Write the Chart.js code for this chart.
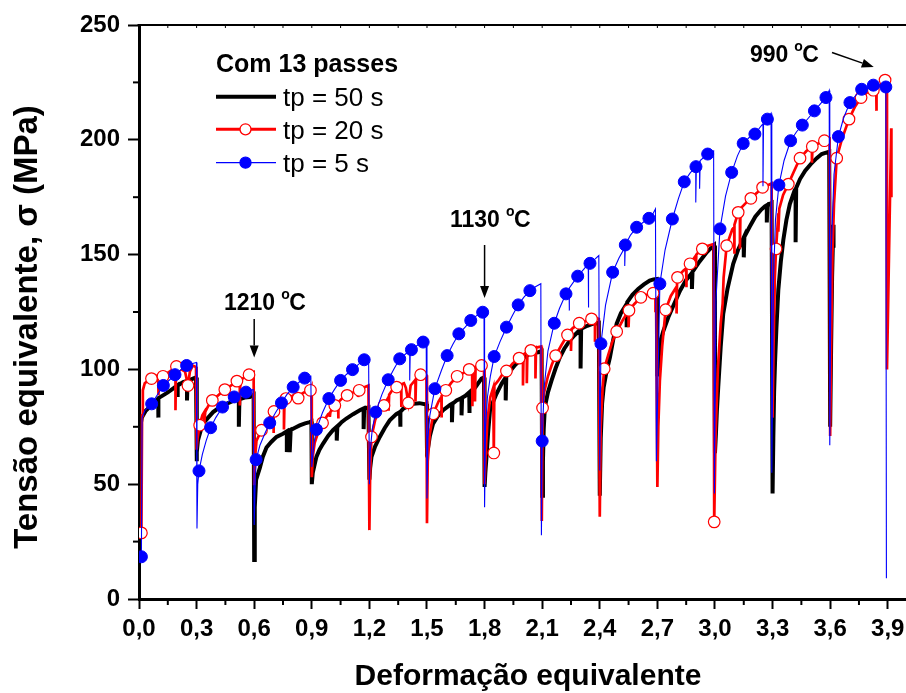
<!DOCTYPE html>
<html>
<head>
<meta charset="utf-8">
<script src="https://cdn.jsdelivr.net/npm/chart.js@4.4.1/dist/chart.umd.min.js"></script>
<style>
  html, body { margin: 0; padding: 0; background: #fff; }
  canvas { display: block; }
</style>
</head>
<body>
<canvas id="c" width="906" height="693"></canvas>
<script>
// ---------------- DATA ----------------
const seriesNames = ['tp = 50 s', 'tp = 20 s', 'tp = 5 s'];
const legendTitle = 'Com 13 passes';
const xTitle = 'Deformação equivalente';
const yTitle = 'Tensão equivalente, σ (MPa)';
const xTickValues = [0, 0.3, 0.6, 0.9, 1.2, 1.5, 1.8, 2.1, 2.4, 2.7, 3.0, 3.3, 3.6, 3.9];
const xMinorValues = [0.15, 0.45, 0.75, 1.05, 1.35, 1.65, 1.95, 2.25, 2.55, 2.85, 3.15, 3.45, 3.75];
const yTickValues = [0, 50, 100, 150, 200, 250];
const yMinorValues = [25, 75, 125, 175, 225];
const annotations = [
  { label: '1210', x: 0.6, y: 100 },
  { label: '1130', x: 1.8, y: 125 },
  { label: '990', x: 3.9, y: 226 }
];

// tp = 50 s  (strain, stress MPa)
const curve50 = [
  [0.003,52],[0.006,75],[0.015,79],[0.035,82],[0.06,84],[0.08,86],[0.1,87],[0.1,79],[0.102,87.5],[0.125,88.7],[0.15,90],[0.177,91.6],[0.2,93],[0.2,88],[0.203,93],[0.23,94.5],[0.25,95],[0.25,86.5],[0.253,95],[0.281,96],[0.297,96.5],
  [0.3,60],[0.302,64],[0.307,69],[0.32,73],[0.334,76.4],[0.36,79],[0.386,81.4],[0.42,83.5],[0.455,85],[0.49,86.3],[0.52,87],[0.52,75],[0.523,87],[0.55,87.7],[0.577,88],[0.597,89],
  [0.6,17],[0.603,40],[0.61,52],[0.629,57],[0.645,62],[0.664,66],[0.69,68.5],[0.716,70.6],[0.75,72],[0.77,73],[0.77,64],[0.775,73],[0.785,73.5],[0.785,64],[0.79,73.6],[0.81,74.5],[0.837,75.6],[0.865,76.5],[0.889,77],[0.898,77.3],
  [0.9,50],[0.905,55],[0.924,61.9],[0.94,65],[0.959,67.7],[0.985,71],[1.01,73.5],[1.03,75],[1.03,69],[1.033,75],[1.055,77],[1.08,78.6],[1.115,80.5],[1.15,82.2],[1.17,83],[1.17,74],[1.173,83],[1.195,83.5],
  [1.2,52],[1.204,57],[1.211,61.9],[1.23,66.5],[1.254,70.6],[1.28,74.5],[1.306,77.8],[1.34,80.5],[1.36,81.5],[1.36,75],[1.363,81.5],[1.376,82.9],[1.4,84],[1.428,85],[1.46,85.3],[1.489,84.8],[1.497,85],
  [1.5,65],[1.506,66],[1.515,71],[1.532,76.4],[1.555,79.5],[1.584,82.2],[1.62,84.5],[1.63,85],[1.63,77],[1.633,85],[1.654,86.5],[1.68,87.5],[1.68,80],[1.683,87.7],[1.7,88.5],[1.72,90],[1.72,81],[1.723,90.1],[1.75,92],[1.784,96],[1.797,96.5],
  [1.8,48.8],[1.804,55],[1.81,62],[1.818,72],[1.828,82],[1.845,86],[1.862,89.4],[1.89,94],[1.91,96.5],[1.91,86.5],[1.913,97],[1.94,100],[1.96,102],[1.984,104],[2.01,105.5],[2.036,106.8],[2.06,107.3],[2.08,107.5],[2.097,108],
  [2.1,45],[2.104,60],[2.108,74],[2.114,83.6],[2.13,90],[2.149,95.2],[2.17,100.5],[2.192,105.3],[2.215,109],[2.244,112.6],[2.27,115],[2.3,117.5],[2.3,100.4],[2.303,117.7],[2.335,119],[2.366,119.9],[2.395,120.3],
  [2.4,45],[2.405,70],[2.412,85],[2.42,92],[2.435,99],[2.453,105.3],[2.47,113],[2.488,119.9],[2.51,124.5],[2.54,128.5],[2.54,118.4],[2.543,129.3],[2.57,132.5],[2.6,135],[2.63,137],[2.66,138.7],[2.68,139.2],[2.697,139.4],
  [2.7,97],[2.705,103],[2.713,111.2],[2.73,116.5],[2.757,122.7],[2.79,129],[2.818,134.3],[2.85,139],[2.88,142],[2.88,135],[2.883,142.5],[2.92,147],[2.957,151],[2.975,152.5],[2.995,154],
  [3.0,63.5],[3.005,72],[3.01,82],[3.017,92.3],[3.03,110],[3.043,124.2],[3.065,135],[3.095,146],[3.12,152],[3.15,157.5],[3.15,148.8],[3.153,157.7],[3.18,162],[3.21,166.5],[3.24,169.5],[3.26,171],[3.27,171.5],[3.27,164],[3.273,171.6],[3.295,172.5],
  [3.3,46],[3.304,70],[3.308,90],[3.313,103.5],[3.32,118],[3.33,134.7],[3.343,147],[3.356,156.4],[3.372,165],[3.39,172],[3.415,178],[3.42,178.5],[3.42,155.4],[3.423,179],[3.443,182.9],[3.47,186.5],[3.504,189.9],[3.53,192],[3.556,193.8],[3.575,194.3],[3.595,194.8],
  [3.6,75],[3.605,110],[3.61,140],[3.615,158],[3.617,163],[3.618,153]
];

// tp = 20 s
const curve20 = [
  [0.0125,28.8],[0.016,80],[0.02,90.9],[0.03,94],[0.045,95],[0.065,96],[0.08,97.4],[0.1,97],[0.1,88.7],[0.103,97],[0.125,97],[0.15,98.5],[0.175,100],[0.19,100.5],[0.19,82.2],[0.193,101],[0.195,101.3],[0.22,100],[0.24,99],[0.255,93],[0.265,99],[0.28,101.7],[0.297,101],
  [0.3,65],[0.305,70],[0.316,75.7],[0.33,80],[0.34,81.4],[0.34,76.4],[0.345,81.5],[0.36,84],[0.382,86.5],[0.41,88.5],[0.447,91.2],[0.48,93],[0.51,94.9],[0.525,95.5],[0.525,84.3],[0.528,95.5],[0.55,96.5],[0.573,97.7],[0.597,98.8],
  [0.6,49.6],[0.605,62],[0.612,69],[0.638,73.5],[0.67,78],[0.7,81.5],[0.7,72.3],[0.703,81.7],[0.73,84],[0.755,86.5],[0.755,73.8],[0.758,86.8],[0.765,87.3],[0.79,88],[0.81,89],[0.829,87.5],[0.85,89.5],[0.87,90.5],[0.893,90.9],[0.898,92],
  [0.9,53],[0.905,62],[0.915,68],[0.935,73],[0.956,76.7],[0.985,80.5],[0.994,81],[0.994,79.3],[0.997,81.5],[1.02,84.3],[1.037,85.5],[1.037,78.6],[1.04,85.8],[1.06,87.5],[1.084,88.7],[1.115,90],[1.141,90.9],[1.141,88],[1.147,90.9],[1.168,92],[1.195,93],
  [1.2,30],[1.204,55],[1.211,70.6],[1.23,78],[1.25,82],[1.276,84.3],[1.3,88],[1.3,82],[1.303,89],[1.32,91],[1.342,92.3],[1.365,93],[1.365,83.6],[1.368,93.5],[1.38,94],[1.39,92],[1.403,85.4],[1.415,93],[1.44,95.5],[1.44,86],[1.443,96],[1.467,97.7],[1.485,98],[1.497,97.4],
  [1.5,33],[1.504,60],[1.515,72],[1.533,80.7],[1.56,86],[1.575,88],[1.575,79],[1.578,88.5],[1.598,90.9],[1.625,94],[1.657,97],[1.69,98.5],[1.72,100],[1.735,100.5],[1.735,84],[1.738,100.5],[1.75,101],[1.75,86],[1.753,101],[1.784,101.7],[1.797,102],
  [1.8,50],[1.805,62],[1.815,78],[1.83,88],[1.845,92],[1.848,63.6],[1.851,93],[1.87,95],[1.89,97.5],[1.914,99.3],[1.945,102.5],[1.98,104.9],[2.0,106],[2.0,93],[2.003,106.5],[2.02,107.5],[2.02,94],[2.023,107.5],[2.041,108.3],[2.065,109.5],[2.065,96],[2.068,109.5],[2.095,110],
  [2.098,34],[2.102,83.2],[2.11,90],[2.13,97],[2.15,102],[2.17,106],[2.2,110.5],[2.232,115],[2.25,117],[2.25,108],[2.253,117.5],[2.293,120.1],[2.325,121],[2.357,122],[2.375,122.5],[2.375,112],[2.378,122.5],[2.395,122],
  [2.4,35.8],[2.405,75],[2.415,92],[2.423,100.3],[2.445,106.5],[2.465,112],[2.488,116.5],[2.52,121.5],[2.55,125.5],[2.55,118.4],[2.553,125.7],[2.58,128.5],[2.614,131.4],[2.645,132.5],[2.678,133.2],[2.69,134],[2.69,124.9],[2.693,134],[2.697,134],
  [2.7,48.8],[2.705,75],[2.713,95],[2.725,110],[2.743,126],[2.77,132],[2.8,136],[2.8,124.3],[2.803,140],[2.805,140.1],[2.835,143],[2.85,144],[2.85,135.8],[2.853,144],[2.87,146],[2.9,149.5],[2.9,144.5],[2.903,150],[2.934,152.5],[2.96,153.8],[2.993,154.6],
  [2.996,33.6],[3.003,70],[3.015,100],[3.03,120],[3.04,128.6],[3.045,140],[3.061,153.9],[3.09,161],[3.1,162],[3.1,150.4],[3.103,163],[3.121,168.4],[3.13,169.5],[3.13,152.6],[3.133,170],[3.155,172],[3.187,174.5],[3.22,177],[3.248,179.3],[3.27,180],[3.295,181],
  [3.3,79],[3.305,110],[3.312,140],[3.318,152.5],[3.328,165],[3.33,168],[3.33,160],[3.335,170],[3.355,176],[3.382,180.7],[3.41,186],[3.443,192],[3.475,195],[3.505,197],[3.505,190],[3.508,197.1],[3.54,198.5],[3.57,199.6],[3.585,200.3],[3.597,200.5],
  [3.6,71],[3.605,110],[3.612,150],[3.62,172],[3.634,192],[3.66,200],[3.698,209],[3.73,214.5],[3.761,218.4],[3.79,220.5],[3.825,221.6],[3.84,222],[3.84,212.6],[3.843,222.5],[3.865,224],[3.886,226],[3.893,225],
  [3.896,100],[3.918,205],[3.919,175]
];
const markers20 = [
  [0.0125,28.8],[0.065,96],[0.125,97],[0.195,101.3],[0.255,93],[0.316,75.7],[0.382,86.5],[0.447,91.2],[0.51,94.9],[0.573,97.7],
  [0.638,73.5],[0.703,81.7],[0.765,87.3],[0.829,87.5],[0.893,90.9],[0.956,76.7],[1.02,84.3],[1.084,88.7],[1.147,90.9],[1.211,70.6],
  [1.276,84.3],[1.342,92.3],[1.403,85.4],[1.467,97.7],[1.533,80.7],[1.598,90.9],[1.657,97],[1.72,100],[1.784,101.7],[1.848,63.6],
  [1.914,99.3],[1.98,104.9],[2.041,108.3],[2.102,83.2],[2.17,106],[2.232,115],[2.293,120.1],[2.357,122],[2.423,100.3],[2.488,116.5],
  [2.552,125.7],[2.614,131.4],[2.678,133.2],[2.743,126],[2.805,140.1],[2.87,146],[2.934,152.5],[2.996,33.6],[3.061,153.9],[3.121,168.4],
  [3.187,174.5],[3.248,179.3],[3.318,152.5],[3.382,180.7],[3.443,192],[3.507,197.1],[3.57,199.6],[3.634,192],[3.698,209],[3.761,218.4],
  [3.825,221.6],[3.886,226]
];

// tp = 5 s
const curve5 = [
  [0.0125,18.4],[0.016,79],[0.03,82],[0.066,85],[0.1,89.5],[0.127,93],[0.16,95.5],[0.1875,97.7],[0.22,100],[0.248,101.7],[0.275,102.5],[0.299,103],
  [0.302,30.7],[0.306,50],[0.3125,55.8],[0.33,63],[0.35,69],[0.373,74.6],[0.4,79],[0.435,83.6],[0.465,86],[0.496,88],[0.527,89.3],[0.557,90.1],[0.595,91.2],
  [0.6,32.2],[0.605,50],[0.61,60.7],[0.63,67],[0.655,72],[0.681,76.7],[0.71,81],[0.742,85.4],[0.77,89],[0.803,92.3],[0.835,94.5],[0.863,96.2],[0.895,97],
  [0.9,57.5],[0.905,62],[0.912,68],[0.924,73.8],[0.955,81],[0.989,87.3],[1.02,91.5],[1.05,95.2],[1.08,97.8],[1.112,99.9],[1.14,102],[1.173,104.2],[1.196,105],
  [1.2,50],[1.205,65],[1.215,74],[1.233,81.4],[1.265,89],[1.298,95.5],[1.33,100.5],[1.358,104.6],[1.39,106.8],[1.41,108],[1.41,95.2],[1.413,108.2],[1.419,108.6],[1.45,110.5],[1.48,111.9],[1.496,112],
  [1.5,43.8],[1.505,70],[1.515,80],[1.541,91.6],[1.575,99.5],[1.605,106],[1.635,111],[1.666,115.5],[1.7,118.5],[1.728,121.3],[1.76,123.5],[1.79,124.9],[1.797,125],
  [1.8,40],[1.805,75],[1.815,88],[1.83,97],[1.85,105.6],[1.88,112],[1.914,118.4],[1.945,123.5],[1.975,128.1],[2.005,131.5],[2.036,134.3],[2.065,136],[2.093,137.3],
  [2.096,27.8],[2.1,68.8],[2.11,92],[2.13,108],[2.163,120.1],[2.19,126.5],[2.224,132.9],[2.24,135],[2.24,125.6],[2.243,135.5],[2.285,140.6],[2.315,143.5],[2.34,146],[2.34,127],[2.343,146],[2.349,146.2],[2.375,148],[2.395,149.6],
  [2.4,56],[2.406,111.2],[2.43,128],[2.467,142.3],[2.5,148.5],[2.53,153],[2.53,145],[2.533,154.2],[2.56,158.5],[2.592,161.9],[2.625,164],[2.656,165.8],[2.675,167.5],[2.69,169.9],
  [2.695,60],[2.713,137.3],[2.74,152],[2.778,165.5],[2.81,174.5],[2.84,181.7],[2.87,185.5],[2.9,188.3],[2.9,172.7],[2.903,188.5],[2.92,190.5],[2.92,178.7],[2.923,191],[2.962,193.8],[2.993,195.2],
  [2.997,46],[3.005,130],[3.026,161.2],[3.055,175.5],[3.087,185.8],[3.117,193],[3.147,198.4],[3.178,201],[3.208,202.5],[3.24,206],[3.25,207],[3.25,179.8],[3.253,207.5],[3.273,209],[3.292,211.5],
  [3.296,55],[3.305,140],[3.315,165],[3.333,180.3],[3.36,191],[3.394,199.6],[3.425,203.5],[3.455,206.4],[3.487,209.5],[3.518,212.6],[3.548,215.5],[3.578,218.4],[3.595,221.5],
  [3.598,67],[3.605,150],[3.62,185],[3.643,201.4],[3.67,209.5],[3.703,216.2],[3.735,219.5],[3.764,222],[3.795,223],[3.825,223.8],[3.857,223.5],[3.89,223],
  [3.893,9]
];
const markers5 = [
  [0.0125,18.4],[0.066,85],[0.127,93],[0.1875,97.7],[0.248,101.7],[0.3125,55.8],[0.373,74.6],[0.435,83.6],[0.496,88],[0.557,90.1],
  [0.61,60.7],[0.681,76.7],[0.742,85.4],[0.803,92.3],[0.863,96.2],[0.924,73.8],[0.989,87.3],[1.05,95.2],[1.112,99.9],[1.173,104.2],
  [1.233,81.4],[1.298,95.5],[1.358,104.6],[1.419,108.6],[1.48,111.9],[1.541,91.6],[1.605,106],[1.666,115.5],[1.728,121.3],[1.79,124.9],
  [1.85,105.6],[1.914,118.4],[1.975,128.1],[2.036,134.3],[2.1,68.8],[2.163,120.1],[2.224,132.9],[2.285,140.6],[2.349,146.2],[2.406,111.2],
  [2.467,142.3],[2.533,154.2],[2.592,161.9],[2.656,165.8],[2.713,137.3],[2.778,165.5],[2.84,181.7],[2.901,188.3],[2.962,193.8],[3.026,161.2],
  [3.087,185.8],[3.147,198.4],[3.208,202.5],[3.273,209],[3.333,180.3],[3.394,199.6],[3.455,206.4],[3.518,212.6],[3.578,218.4],[3.643,201.4],
  [3.703,216.2],[3.764,222],[3.825,223.8],[3.89,223]
];

// ---------------- STYLE ----------------
const FONT = '"Liberation Sans", Arial, Helvetica, sans-serif';
const toPts = arr => arr.map(p => ({ x: p[0], y: p[1] }));
const C50 = '#000000', C20 = '#ff0000', C5 = '#0000ff';

function arrow(ctx, x1, y1, x2, y2) {
  const ang = Math.atan2(y2 - y1, x2 - x1);
  const hl = 12, hw = 4.5;
  const bx = x2 - hl * Math.cos(ang), by = y2 - hl * Math.sin(ang);
  ctx.beginPath(); ctx.moveTo(x1, y1); ctx.lineTo(bx, by); ctx.stroke();
  ctx.beginPath();
  ctx.moveTo(x2, y2);
  ctx.lineTo(bx + hw * Math.sin(ang), by - hw * Math.cos(ang));
  ctx.lineTo(bx - hw * Math.sin(ang), by + hw * Math.cos(ang));
  ctx.closePath(); ctx.fill();
}

const deco = {
  id: 'deco',
  afterDraw(chart) {
    const { ctx, chartArea: ca, scales: { x, y } } = chart;
    ctx.save();
    ctx.strokeStyle = '#000'; ctx.fillStyle = '#000';
    // minor ticks
    ctx.lineWidth = 2;
    xMinorValues.forEach(v => { const px = x.getPixelForValue(v); ctx.beginPath(); ctx.moveTo(px, ca.bottom); ctx.lineTo(px, ca.bottom + 6); ctx.stroke(); });
    yMinorValues.forEach(v => { const py = y.getPixelForValue(v); ctx.beginPath(); ctx.moveTo(ca.left, py); ctx.lineTo(ca.left - 6, py); ctx.stroke(); });
    // top frame with small inward ticks
    ctx.lineWidth = 2.2;
    ctx.beginPath(); ctx.moveTo(ca.left - 1.5, ca.top); ctx.lineTo(906, ca.top); ctx.stroke();
    ctx.lineWidth = 1;
    [...xTickValues, ...xMinorValues].forEach(v => { const px = x.getPixelForValue(v); ctx.beginPath(); ctx.moveTo(px, ca.top); ctx.lineTo(px, ca.top + 3); ctx.stroke(); });

    // axis titles
    ctx.font = 'bold 30px ' + FONT;
    ctx.textAlign = 'center'; ctx.textBaseline = 'alphabetic';
    ctx.fillText(xTitle, 528, 685);
    ctx.save();
    ctx.translate(37, 327); ctx.rotate(-Math.PI / 2);
    ctx.font = 'bold 33px ' + FONT;
    ctx.fillText(yTitle, 0, 0);
    ctx.restore();

    // legend
    ctx.textAlign = 'left';
    ctx.font = 'bold 25px ' + FONT;
    ctx.fillText(legendTitle, 216, 71.5);
    const rows = [
      { c: C50, w: 4, m: null, yl: 96.7, yb: 106 },
      { c: C20, w: 3, m: 'open', yl: 129.3, yb: 138.5 },
      { c: C5, w: 1.3, m: 'fill', yl: 162.7, yb: 171.5 }
    ];
    ctx.font = '26px ' + FONT;
    rows.forEach((r, i) => {
      ctx.strokeStyle = r.c; ctx.lineWidth = r.w;
      ctx.beginPath(); ctx.moveTo(216, r.yl); ctx.lineTo(276, r.yl); ctx.stroke();
      if (r.m) {
        ctx.beginPath(); ctx.arc(245.5, r.yl, 5.5, 0, Math.PI * 2);
        ctx.fillStyle = r.m === 'open' ? '#fff' : r.c; ctx.fill();
        ctx.lineWidth = 1.3; ctx.strokeStyle = r.c; ctx.stroke();
      }
      ctx.fillStyle = '#000';
      ctx.fillText(seriesNames[i], 283, r.yb);
    });

    // temperature annotations
    ctx.fillStyle = '#000'; ctx.strokeStyle = '#000'; ctx.lineWidth = 1.5;
    const drawTemp = (txt, x0, base) => {
      ctx.font = 'bold 23px ' + FONT; ctx.textAlign = 'left';
      ctx.fillText(txt, x0, base);
      const w = ctx.measureText(txt).width;
      ctx.font = 'bold 14px ' + FONT;
      ctx.fillText('o', x0 + w + 6, base - 11);
      ctx.font = 'bold 23px ' + FONT;
      ctx.fillText('C', x0 + w + 14, base);
    };
    const a0 = annotations[0], a1 = annotations[1], a2 = annotations[2];
    const p0x = x.getPixelForValue(a0.x);
    drawTemp(a0.label, 224, 310);
    arrow(ctx, p0x, 319, p0x, y.getPixelForValue(a0.y) - 12);
    const p1x = x.getPixelForValue(a1.x);
    drawTemp(a1.label, 450, 227);
    arrow(ctx, p1x, 245, p1x, y.getPixelForValue(a1.y) - 14);
    drawTemp(a2.label, 750, 62);
    arrow(ctx, 832, 52.5, x.getPixelForValue(a2.x) - 14, y.getPixelForValue(a2.y) - 13);
    ctx.restore();
  }
};

new Chart(document.getElementById('c'), {
  type: 'scatter',
  data: {
    datasets: [
      { label: seriesNames[0], data: toPts(curve50), showLine: true, borderColor: C50, borderWidth: 4, pointRadius: 0, order: 5 },
      { label: seriesNames[1], data: toPts(curve20), showLine: true, borderColor: C20, borderWidth: 2.7, pointRadius: 0, order: 4 },
      { label: seriesNames[1] + ' markers', data: toPts(markers20), showLine: false, pointRadius: 5.8, pointBackgroundColor: '#fff', pointBorderColor: C20, pointBorderWidth: 1.2, order: 3 },
      { label: seriesNames[2], data: toPts(curve5), showLine: true, borderColor: C5, borderWidth: 1.1, pointRadius: 0, order: 2 },
      { label: seriesNames[2] + ' markers', data: toPts(markers5), showLine: false, pointRadius: 6, pointBackgroundColor: C5, pointBorderColor: C5, pointBorderWidth: 1, order: 1 }
    ]
  },
  options: {
    responsive: false,
    devicePixelRatio: 1,
    animation: false,
    events: [],
    layout: { autoPadding: false, padding: { top: 25, right: 0, left: 0, bottom: 0 } },
    plugins: { legend: { display: false }, tooltip: { enabled: false } },
    elements: { line: { tension: 0, borderJoinStyle: 'miter' }, point: { hitRadius: 0 } },
    scales: {
      x: {
        type: 'linear', min: 0, max: 3.995,
        afterBuildTicks: s => { s.ticks = xTickValues.map(v => ({ value: v })); },
        afterFit: s => { s.height = 94; s.paddingRight = 0; s.paddingLeft = 0; },
        ticks: {
          color: '#000', font: { family: FONT, size: 24, weight: 'bold' }, padding: 6, maxRotation: 0, autoSkip: false,
          callback: v => v.toFixed(1).replace('.', ',')
        },
        grid: { display: true, drawOnChartArea: false, drawTicks: true, tickLength: 10, tickWidth: 2, tickColor: '#000' },
        border: { display: true, width: 3, color: '#000' }
      },
      y: {
        type: 'linear', min: 0, max: 250,
        afterBuildTicks: s => { s.ticks = yTickValues.map(v => ({ value: v })); },
        afterFit: s => { s.width = 139; s.paddingTop = 0; s.paddingBottom = 0; },
        ticks: { color: '#000', font: { family: FONT, size: 24, weight: 'bold' }, padding: 8, callback: v => String(v) },
        grid: { display: true, drawOnChartArea: false, drawTicks: true, tickLength: 11, tickWidth: 2, tickColor: '#000' },
        border: { display: true, width: 3, color: '#000' }
      }
    }
  },
  plugins: [deco]
});
</script>
</body>
</html>
